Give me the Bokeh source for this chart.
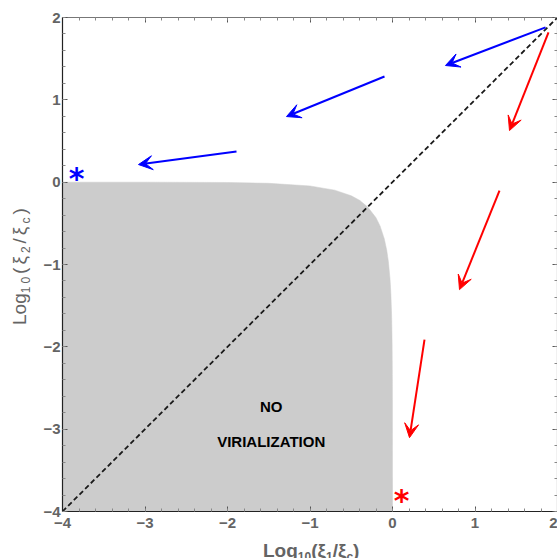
from bokeh.plotting import figure
from bokeh.layouts import row, column
from bokeh.models import (Range1d, FixedTicker, LinearAxis, Arrow, VeeHead,
                          ColumnDataSource, Div)
from bokeh.core.properties import value
from bokeh.embed import file_html
from bokeh.resources import INLINE

# ---------------- data ----------------
# boundary of the "no virialization" region
region_x = [-4.0, -3.0, -2.0, -1.5, -1.0, -0.7, -0.5, -0.4, -0.3, -0.2, -0.15,
            -0.1, -0.07, -0.05, -0.03, -0.02, -0.01, -0.005, -0.002, -0.001, 0.0, -4.0]
region_y = [0.0, 0.0, -0.004, -0.014, -0.046, -0.097, -0.165, -0.22, -0.302, -0.433, -0.534,
            -0.687, -0.827, -0.964, -1.176, -1.347, -1.643, -1.941, -2.337, -2.638, -4.0, -4.0]

diag_x = [-4.0, 2.0]
diag_y = [-4.0, 2.0]

blue_x0 = [1.855, -0.097, -1.891]
blue_y0 = [1.880, 1.283, 0.372]
blue_x1 = [0.642, -1.285, -3.079]
blue_y1 = [1.417, 0.797, 0.214]

red_x0 = [1.891, 1.297, 0.388]
red_y0 = [1.818, -0.102, -1.913]
red_x1 = [1.418, 0.812, 0.206]
red_y1 = [0.627, -1.305, -3.103]

star_x = [-3.83, 0.109]
star_y = [0.092, -3.82]
star_color = ["#0000ff", "#ff0000"]

major_ticks = [-4, -3, -2, -1, 0, 1, 2]
minor_ticks = [round(-4 + 0.2 * k, 1) for k in range(31)]
tick_labels = {-4: "\u22124", -3: "\u22123", -2: "\u22122", -1: "\u22121", 0: "0", 1: "1", 2: "2"}

region_text = ["NO", "VIRIALIZATION"]
region_text_x = [-1.47, -1.47]
region_text_y = [-2.727, -3.152]

x_label_parts = ("Log", "10", "\u03be", "1", "\u03be", "c")
y_label_parts = ("Log", "10", "\u03be", "2", "\u03be", "c")

# ---------------- layout sizes ----------------
YLAB_W = 30          # width of the y-label strip
XLAB_H = 22          # height of the x-label strip
W, H = 557 - YLAB_W, 558 - XLAB_H
ML, MR, MT, MB = 62 - YLAB_W, 0, 17, 25

p = figure(width=W, height=H, x_range=Range1d(-4, 2), y_range=Range1d(-4, 2),
           output_backend="svg", toolbar_location=None,
           min_border_left=ML, min_border_right=MR, min_border_top=MT, min_border_bottom=MB,
           x_axis_location=None, y_axis_location=None)
p.outline_line_color = None
p.xgrid.visible = False
p.ygrid.visible = False
p.background_fill_color = "white"
p.border_fill_color = "white"

FONT = "Liberation Sans"
LABEL_COLOR = "#646464"


def make_axis(show_labels, line_color):
    ax = LinearAxis(ticker=FixedTicker(ticks=major_ticks, minor_ticks=minor_ticks))
    ax.axis_line_color = line_color
    ax.axis_line_width = 1.2
    ax.major_tick_in = 5
    ax.major_tick_out = 0
    ax.minor_tick_in = 3
    ax.minor_tick_out = 0
    ax.major_tick_line_color = "#555555"
    ax.minor_tick_line_color = "#888888"
    if show_labels:
        ax.major_label_overrides = tick_labels
        ax.major_label_text_font = FONT
        ax.major_label_text_font_style = "bold"
        ax.major_label_text_font_size = "15px"
        ax.major_label_text_color = LABEL_COLOR
    else:
        ax.major_label_text_font_size = "0px"
        ax.major_label_text_color = None
        ax.major_label_standoff = 0
    return ax


ax_b = make_axis(True, "#222222")
ax_b.major_label_standoff = 6
ax_l = make_axis(True, "#222222")
ax_l.major_label_standoff = 2
ax_t = make_axis(False, "#777777")
ax_r = make_axis(False, "#777777")
p.add_layout(ax_b, "below")
p.add_layout(ax_l, "left")
p.add_layout(ax_t, "above")
p.add_layout(ax_r, "right")

# gray region
p.patch(region_x, region_y, fill_color="#cccccc", line_color="#cccccc", line_width=0.5)

# diagonal
p.line(diag_x, diag_y, line_color="#1a1a1a", line_width=1.8, line_dash="5 3")

# arrows
bsrc = ColumnDataSource(dict(x0=blue_x0, y0=blue_y0, x1=blue_x1, y1=blue_y1))
rsrc = ColumnDataSource(dict(x0=red_x0, y0=red_y0, x1=red_x1, y1=red_y1))
for src, col in ((bsrc, "#0000ff"), (rsrc, "#ff0000")):
    p.add_layout(Arrow(end=VeeHead(size=14, fill_color=col, line_color=col, line_width=1),
                       x_start="x0", y_start="y0", x_end="x1", y_end="y1", source=src,
                       line_color=col, line_width=2))

# asterisks
ssrc = ColumnDataSource(dict(x=star_x, y=star_y, c=star_color, t=["*", "*"]))
p.text(x="x", y="y", text="t", source=ssrc, text_color="c", text_font=value("DejaVu Sans"),
       text_font_style="bold", text_font_size="30px", text_align="center",
       text_baseline="alphabetic", y_offset=4)

# region label
tsrc = ColumnDataSource(dict(x=region_text_x, y=region_text_y, t=region_text))
p.text(x="x", y="y", text="t", source=tsrc, text_color="black", text_font=value(FONT),
       text_font_style="bold", text_font_size="15px", text_align="center",
       text_baseline="middle")

# ---------------- axis labels as HTML (real text with subscripts) ----------------
BASE = ("font-family:Liberation Sans,Arial,sans-serif;font-size:19px;line-height:19px;"
        "color:" + LABEL_COLOR + ";white-space:nowrap;width:max-content;margin:0;padding:0;")


def label_html(parts, weight, spacing):
    log, ten, xi1, s1, xi2, c = parts
    sub = ("font-size:12px;vertical-align:-4px;line-height:0;font-weight:" + weight)
    rest = ('<span style="letter-spacing:' + spacing + '">'
            '<sub style="' + sub + '">' + ten + '</sub>(' + xi1 +
            '<sub style="' + sub + '">' + s1 + '</sub>/' + xi2 +
            '<sub style="' + sub + '">' + c + '</sub>)</span>')
    return log + rest


x_html = ('<div style="position:relative;width:' + str(W) + 'px;height:' + str(XLAB_H) +
          'px;overflow:hidden">'
          '<div style="position:absolute;left:' + str(263 - YLAB_W) + 'px;top:' + str(541 - H) +
          'px;' + BASE + 'font-weight:bold">' + label_html(x_label_parts, "bold", "0px") +
          '</div></div>')
y_html = ('<div style="position:relative;width:' + str(YLAB_W) + 'px;height:558px">'
          '<div style="position:absolute;left:10px;top:325px;transform:rotate(-90deg);'
          'transform-origin:0 0;' + BASE + 'font-weight:normal">' +
          label_html(y_label_parts, "normal", "3px") + '</div></div>')

div_x = Div(text=x_html, width=W, height=XLAB_H, margin=0)
div_y = Div(text=y_html, width=YLAB_W, height=558, margin=0)

layout = row(div_y, column(p, div_x, spacing=0), spacing=0)

open("out.html", "w").write(file_html(layout, INLINE))
